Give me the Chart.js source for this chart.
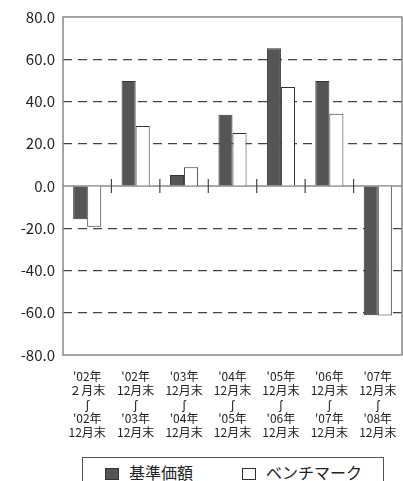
<!DOCTYPE html>
<html>
<head>
<meta charset="utf-8">
<script src="https://cdn.jsdelivr.net/npm/chart.js@4"></script>
<style>
  body { margin: 0; background: #fff; }
  #wrap { position: relative; width: 403px; height: 481px; overflow: hidden; }
  #box { position: absolute; left: 0; top: 0; width: 403px; height: 450px; }
  #legend {
    position: absolute; left: 82px; top: 457px; width: 302px; height: 34px;
    border: 1.5px solid #555; box-sizing: border-box;
    font-family: 'Noto Sans CJK JP', sans-serif; font-size: 16px; color: #222;
  }
  .item { position: absolute; top: 4px; line-height: 20px; }
  .sw { display: inline-block; width: 14px; height: 12px; border: 1px solid #333; box-sizing: border-box; vertical-align: -1px; margin-right: 10px; }
</style>
</head>
<body>
<div id="wrap">
  <div id="box"><canvas id="chart"></canvas></div>
  <div id="legend">
    <span class="item" style="left: 22px;"><span class="sw" style="background:#555555;"></span>基準価額</span>
    <span class="item" style="left: 159px;"><span class="sw" style="background:#fff;"></span>ベンチマーク</span>
  </div>
</div>
<script>
// データ
const periodos = [
    ["'02年", "２月末", "ʃ", "'02年", "12月末"],
    ["'02年", "12月末", "ʃ", "'03年", "12月末"],
    ["'03年", "12月末", "ʃ", "'04年", "12月末"],
    ["'04年", "12月末", "ʃ", "'05年", "12月末"],
    ["'05年", "12月末", "ʃ", "'06年", "12月末"],
    ["'06年", "12月末", "ʃ", "'07年", "12月末"],
    ["'07年", "12月末", "ʃ", "'08年", "12月末"]
];
const kijunKagaku = [-15.7, 49.7, 5.2, 33.7, 65.2, 49.7, -61.2];
const benchmark = [-19.3, 28.4, 8.9, 25.1, 46.9, 34.2, -61.3];
const yTicks = [80, 60, 40, 20, 0, -20, -40, -60, -80];

const fuente = "'Noto Sans CJK JP', sans-serif";

// marco, linea cero y marcas entre categorias
const marcoPlugin = {
    id: 'marco',
    beforeDatasetsDraw(chart) {
        const { ctx, chartArea: a, scales: { x, y } } = chart;
        const y0 = y.getPixelForValue(0);
        ctx.save();
        ctx.strokeStyle = '#888';
        ctx.lineWidth = 1.5;
        ctx.beginPath();
        ctx.moveTo(a.left, y0); ctx.lineTo(a.right, y0);
        ctx.stroke();
        ctx.strokeStyle = '#444';
        ctx.lineWidth = 1.2;
        const paso = x.getPixelForValue(1) - x.getPixelForValue(0);
        for (let i = 1; i < periodos.length; i++) {
            const px = x.getPixelForValue(i) - paso / 2;
            ctx.beginPath();
            ctx.moveTo(px, y0 - 7); ctx.lineTo(px, y0 + 7);
            ctx.stroke();
        }
        ctx.restore();
    },
    afterDatasetsDraw(chart) {
        const { ctx, chartArea: a } = chart;
        ctx.save();
        ctx.strokeStyle = '#888';
        ctx.lineWidth = 1.5;
        ctx.strokeRect(a.left, a.top, a.right - a.left, a.bottom - a.top);
        ctx.restore();
    }
};

new Chart(document.getElementById('chart').getContext('2d'), {
    type: 'bar',
    data: {
        labels: periodos,
        datasets: [{
            label: '基準価額',
            data: kijunKagaku,
            backgroundColor: '#555555',
            borderColor: '#333',
            borderWidth: 1
        }, {
            label: 'ベンチマーク',
            data: benchmark,
            backgroundColor: '#ffffff',
            borderColor: '#333',
            borderWidth: 1
        }]
    },
    options: {
        responsive: true,
        maintainAspectRatio: false,
        animation: false,
        layout: { padding: { top: 15, right: 1, left: 0, bottom: 0 } },
        plugins: {
            legend: { display: false },
            tooltip: { enabled: false }
        },
        datasets: {
            bar: { categoryPercentage: 0.58, barPercentage: 1.0 }
        },
        scales: {
            x: {
                grid: { display: false },
                border: { display: false },
                ticks: {
                    color: '#222',
                    font: { family: fuente, size: 12, lineHeight: 1.18 },
                    padding: 6,
                    maxRotation: 0,
                    autoSkip: false
                },
                afterFit(scale) { scale.height = 95; }
            },
            y: {
                min: -80,
                max: 80,
                afterBuildTicks(scale) { scale.ticks = yTicks.map(v => ({ value: v })); },
                grid: {
                    color: ctx => (ctx.tick && [0, 80, -80].includes(ctx.tick.value)) ? 'rgba(0,0,0,0)' : '#444',
                    lineWidth: 1.2,
                    drawTicks: false
                },
                border: { display: false, dash: [9, 6] },
                ticks: {
                    color: '#222',
                    font: { family: fuente, size: 15 },
                    padding: 8,
                    callback: v => v.toFixed(1)
                },
                afterFit(scale) { scale.width = 63; }
            }
        }
    },
    plugins: [marcoPlugin]
});
</script>
</body>
</html>
